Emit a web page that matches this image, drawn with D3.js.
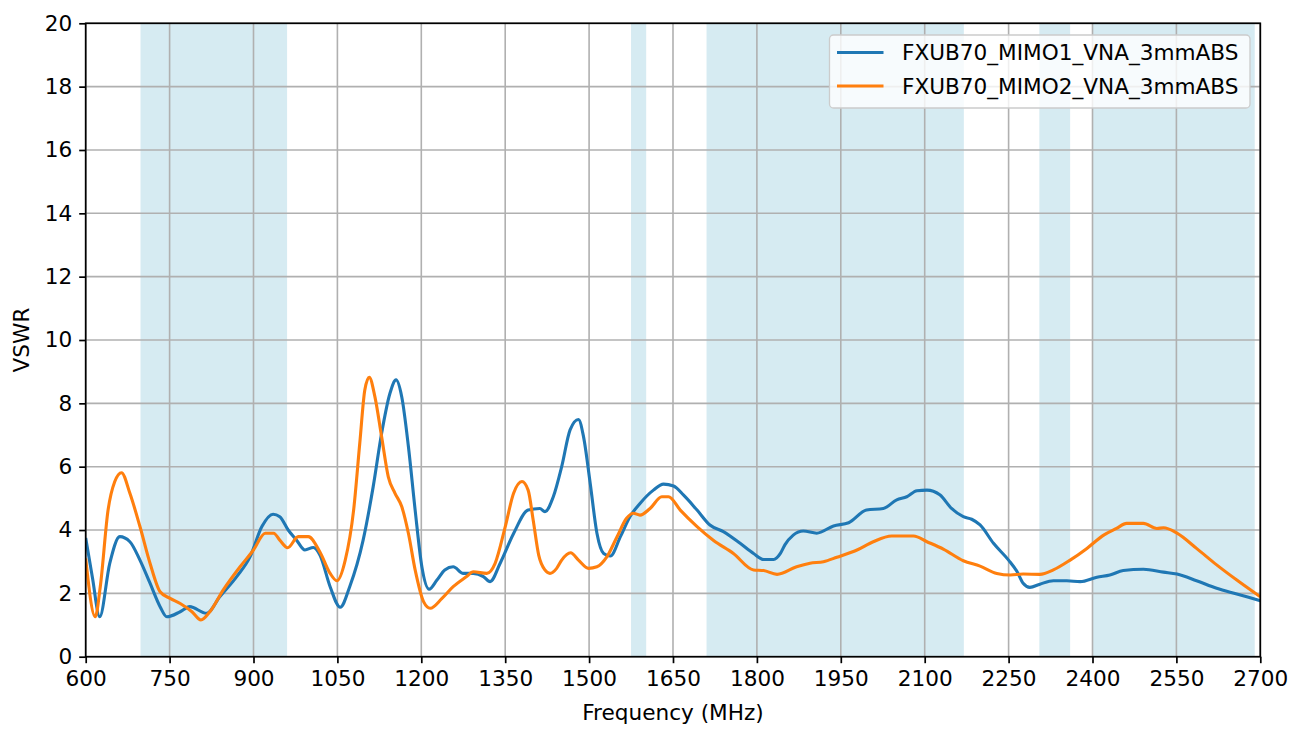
<html>
  <head>
    <title>VSWR - FXUB70 MIMO</title>
    <script src="https://cdn.jsdelivr.net/npm/d3@7"></script>
    <style>
      body { margin: 0; background: #fff; }
      text { font-family: 'DejaVu Sans', sans-serif; }
    </style>
  </head>
  <body>
    <svg width="1302" height="729"></svg>
    <script>

      // band shading (MHz)
      var bandStart = [698, 1575, 1710, 2305, 2400]
      var bandEnd   = [960, 1602, 2170, 2360, 2690]

      var xTicks = [600, 750, 900, 1050, 1200, 1350, 1500, 1650, 1800, 1950, 2100, 2250, 2400, 2550, 2700]
      var yTicks = [0, 2, 4, 6, 8, 10, 12, 14, 16, 18, 20]

      var seriesNames = ['FXUB70_MIMO1_VNA_3mmABS', 'FXUB70_MIMO2_VNA_3mmABS']

      var mimo1Freq = [600, 612, 625, 643, 661, 679, 697, 715, 733, 745, 769, 786, 816, 840, 870, 894, 915, 935, 947, 962,
        977, 992, 1007, 1019, 1037, 1055, 1072, 1096, 1114, 1129, 1144, 1155, 1165, 1177, 1189, 1201, 1214, 1228, 1242, 1257,
        1275, 1293, 1311, 1323, 1341, 1365, 1391, 1412, 1421, 1436, 1451, 1466, 1481, 1490, 1502, 1514, 1526, 1538, 1556, 1573,
        1591, 1615, 1633, 1651, 1669, 1693, 1716, 1740, 1770, 1794, 1812, 1830, 1842, 1850, 1865, 1883, 1907, 1937, 1964, 1996,
        2026, 2050, 2068, 2086, 2104, 2127, 2148, 2169, 2184, 2199, 2223, 2250, 2265, 2276, 2288, 2306, 2330, 2354, 2378, 2408,
        2431, 2455, 2491, 2527, 2551, 2586, 2622, 2658, 2700]
      var mimo1Vswr = [3.75, 2.5, 1.26, 2.95, 3.79, 3.63, 3.05, 2.32, 1.58, 1.26, 1.42, 1.58, 1.37, 1.9, 2.53, 3.16, 4.11, 4.5, 4.42, 4.0,
        3.68, 3.37, 3.45, 3.2, 2.21, 1.56, 2.21, 3.68, 5.37, 7.05, 8.32, 8.74, 8.21, 6.63, 4.63, 2.84, 2.13, 2.42, 2.74, 2.84,
        2.63, 2.63, 2.53, 2.37, 2.95, 3.89, 4.63, 4.68, 4.58, 5.05, 6.0, 7.16, 7.49, 6.95, 5.47, 3.9, 3.26, 3.18, 3.79, 4.42,
        4.84, 5.26, 5.45, 5.39, 5.1, 4.63, 4.16, 3.95, 3.58, 3.26, 3.07, 3.07, 3.26, 3.53, 3.84, 3.97, 3.9, 4.13, 4.23, 4.63,
        4.68, 4.95, 5.05, 5.24, 5.26, 5.11, 4.68, 4.42, 4.34, 4.16, 3.58, 3.05, 2.69, 2.32, 2.19, 2.29, 2.4, 2.4, 2.37, 2.51,
        2.58, 2.72, 2.76, 2.67, 2.61, 2.4, 2.16, 1.98, 1.77]

      var mimo2Freq = [600, 617, 626, 640, 652, 664, 679, 697, 715, 733, 751, 769, 790, 806, 822, 846, 876, 900, 921, 936,
        947, 961, 980, 998, 1019, 1037, 1049, 1064, 1079, 1090, 1099, 1107, 1117, 1129, 1141, 1153, 1165, 1177, 1189, 1204,
        1216, 1237, 1257, 1281, 1293, 1317, 1332, 1350, 1365, 1380, 1391, 1400, 1410, 1421, 1430, 1442, 1451, 1467, 1481, 1499,
        1514, 1532, 1550, 1567, 1579, 1591, 1609, 1630, 1642, 1663, 1693, 1722, 1758, 1794, 1812, 1836, 1871, 1895, 1919, 1943,
        1979, 2008, 2041, 2062, 2080, 2104, 2134, 2169, 2199, 2229, 2253, 2276, 2306, 2330, 2360, 2390, 2420, 2443, 2461, 2491,
        2515, 2527, 2551, 2586, 2622, 2658, 2700]
      var mimo2Vswr = [3.1, 1.26, 2.2, 4.63, 5.53, 5.81, 5.16, 4.11, 2.95, 2.05, 1.84, 1.68, 1.42, 1.16, 1.42, 2.11, 2.84, 3.37, 3.9, 3.9,
        3.68, 3.44, 3.79, 3.79, 3.3, 2.63, 2.4, 3.05, 4.63, 6.74, 8.42, 8.82, 8.21, 6.95, 5.68, 5.16, 4.74, 3.89, 2.74, 1.74,
        1.53, 1.84, 2.21, 2.53, 2.68, 2.63, 2.95, 4.1, 5.16, 5.53, 5.26, 4.32, 3.2, 2.74, 2.63, 2.79, 3.05, 3.28, 3.05, 2.79,
        2.84, 3.16, 3.79, 4.37, 4.53, 4.47, 4.68, 5.05, 5.05, 4.63, 4.11, 3.68, 3.26, 2.74, 2.72, 2.6, 2.84, 2.95, 3.0, 3.14,
        3.37, 3.63, 3.81, 3.81, 3.81, 3.63, 3.39, 3.03, 2.86, 2.63, 2.58, 2.61, 2.6, 2.74, 3.05, 3.42, 3.84, 4.05, 4.21, 4.21,
        4.05, 4.07, 3.9, 3.42, 2.9, 2.42, 1.89]

      var colors = ['#1f77b4', '#ff7f0e']

      var margin = {left: 85.7, top: 23.3, right: 1302 - 1260.3, bottom: 729 - 656.7}
      var width = 1302 - margin.left - margin.right
      var height = 729 - margin.top - margin.bottom
      var fontSize = 21.6

      var svg = d3.select('svg')
      var g = svg.append('g').attr('transform', 'translate(' + margin.left + ',' + margin.top + ')')

      var x = d3.scaleLinear().domain([600, 2700]).range([0, width])
      var y = d3.scaleLinear().domain([0, 20]).range([height, 0])

      // shaded bands
        g.selectAll('rect.band')
          .data(d3.zip(bandStart, bandEnd))
          .enter().append('rect')
          .attr('class', 'band')
          .attr('x', function(d){ return x(d[0]) })
          .attr('width', function(d){ return x(d[1]) - x(d[0]) })
          .attr('y', 0).attr('height', height)
          .attr('fill', '#add8e6').attr('fill-opacity', 0.5)

      // grid
        g.selectAll('line.vgrid').data(xTicks).enter().append('line')
          .attr('x1', x).attr('x2', x).attr('y1', 0).attr('y2', height)
          .attr('stroke', '#b0b0b0').attr('stroke-width', 1.6)
        g.selectAll('line.hgrid').data(yTicks).enter().append('line')
          .attr('y1', y).attr('y2', y).attr('x1', 0).attr('x2', width)
          .attr('stroke', '#b0b0b0').attr('stroke-width', 1.6)

      // curves
        svg.append('defs').append('clipPath').attr('id', 'plotclip')
          .append('rect').attr('width', width).attr('height', height)

        var line = d3.line()
          .x(function(d){ return x(d[0]) })
          .y(function(d){ return y(d[1]) })
          .curve(d3.curveMonotoneX)

        var series = [d3.zip(mimo1Freq, mimo1Vswr), d3.zip(mimo2Freq, mimo2Vswr)]
        g.append('g').attr('clip-path', 'url(#plotclip)')
          .selectAll('path').data(series).enter().append('path')
          .attr('d', line)
          .attr('fill', 'none')
          .attr('stroke', function(d, i){ return colors[i] })
          .attr('stroke-width', 3.1)
          .attr('stroke-linejoin', 'round')

      // axes
        var xAxis = g.append('g').attr('transform', 'translate(0,' + height + ')')
          .call(d3.axisBottom(x).tickValues(xTicks).tickFormat(d3.format('d')).tickSize(6.5).tickPadding(7))
        var yAxis = g.append('g')
          .call(d3.axisLeft(y).tickValues(yTicks).tickSize(6.5).tickPadding(7))
        ;[xAxis, yAxis].forEach(function(a){
          a.select('.domain').remove()
          a.selectAll('line').attr('stroke', '#000').attr('stroke-width', 1.7)
          a.selectAll('text').attr('fill', '#000').style('font-size', fontSize + 'px')
        })
        xAxis.selectAll('text').attr('dy', '0.75em')

        g.append('rect').attr('width', width).attr('height', height)
          .attr('fill', 'none').attr('stroke', '#000').attr('stroke-width', 1.7)

      // axis labels
        svg.append('text').text('Frequency (MHz)')
          .attr('x', margin.left + width / 2).attr('y', 720)
          .attr('text-anchor', 'middle').style('font-size', fontSize + 'px')
        svg.append('text').text('VSWR')
          .attr('transform', 'translate(29,' + (margin.top + height / 2) + ') rotate(-90)')
          .attr('text-anchor', 'middle').style('font-size', fontSize + 'px')

      // legend
        var lg = svg.append('g').attr('transform', 'translate(829.5,35)')
        lg.append('rect').attr('width', 420.5).attr('height', 73).attr('rx', 4)
          .attr('fill', '#fff').attr('fill-opacity', 0.8)
          .attr('stroke', '#cccccc').attr('stroke-width', 1.3)
        seriesNames.forEach(function(name, i){
          var ly = 17.5 + i * 33.5
          lg.append('line').attr('x1', 7.5).attr('x2', 54).attr('y1', ly).attr('y2', ly)
            .attr('stroke', colors[i]).attr('stroke-width', 3.1)
          lg.append('text').text(name).attr('x', 72.5).attr('y', ly).attr('dy', '0.36em')
            .style('font-size', fontSize + 'px')
        })

    </script>
  </body>
</html>
